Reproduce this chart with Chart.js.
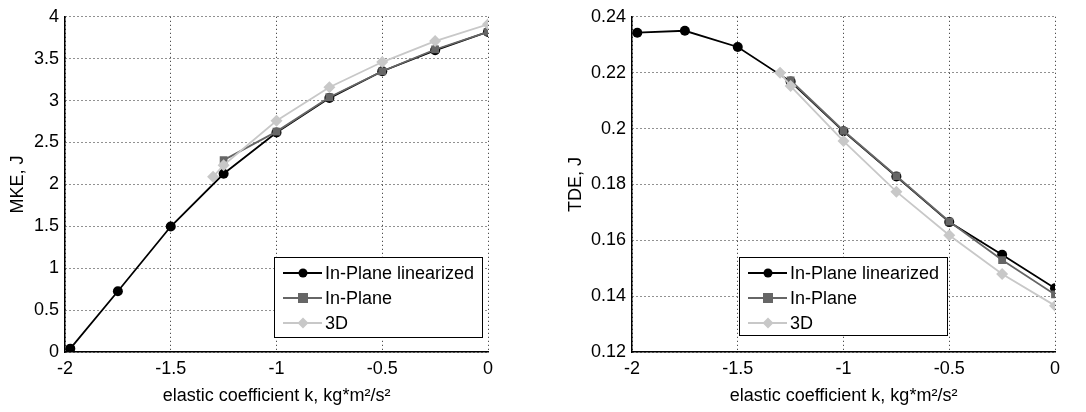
<!DOCTYPE html>
<html>
<head>
<meta charset="utf-8">
<script src="https://cdn.jsdelivr.net/npm/chart.js@4.4.1/dist/chart.umd.min.js"></script>
<style>
  body { margin: 0; background: #fff; }
  #wrap { position: relative; width: 1086px; height: 412px; }
  canvas { position: absolute; top: 0; }
</style>
</head>
<body>
<div id="wrap">
  <canvas id="mke" width="543" height="412" style="left:0"></canvas>
  <canvas id="tde" width="543" height="412" style="left:543px"></canvas>
</div>
<script>
// valores
const kLinear = [-1.975, -1.75, -1.5, -1.25, -1, -0.75, -0.5, -0.25, 0];
const kPlane = [-1.25, -1, -0.75, -0.5, -0.25, 0];
const k3d = [-1.3, -1.25, -1, -0.75, -0.5, -0.25, 0];

const mkeLinear = [0.04, 0.725, 1.497, 2.127, 2.62, 3.03, 3.35, 3.60, 3.82];
const mkePlane = [2.29, 2.63, 3.04, 3.35, 3.61, 3.82];
const mke3d = [2.09, 2.23, 2.76, 3.16, 3.46, 3.71, 3.91];

const tdeLinear = [0.2343, 0.2350, 0.2292, 0.2168, 0.1990, 0.1828, 0.1665, 0.1548, 0.1428];
const tdePlane = [0.2172, 0.1992, 0.1830, 0.1667, 0.1529, 0.1406];
const tde3d = [0.2200, 0.2152, 0.1955, 0.1774, 0.1618, 0.1479, 0.1366];

const nomes = ['In-Plane linearized', 'In-Plane', '3D'];
const cores = ['#000000', '#666666', '#c8c8c8'];
const marcadores = ['circle', 'rect', 'rectRot'];
const tamanhos = [5, 5.5, 6];

const fonte = 'Arial, "Liberation Sans", Helvetica, sans-serif';

function pontos(xs, ys) {
    return xs.map((x, i) => ({ x: x, y: ys[i] }));
}

function criarDataset(i, xs, ys) {
    return {
        label: nomes[i],
        data: pontos(xs, ys),
        borderColor: cores[i],
        backgroundColor: cores[i],
        pointStyle: marcadores[i],
        pointRadius: tamanhos[i],
        pointBorderWidth: 0,
        borderWidth: 1.8,
        tension: 0,
        order: 3 - i
    };
}

function formatarTick(v) {
    return parseFloat(v.toFixed(4)).toString();
}

// legenda desenhada dentro da area do grafico
const legendaCaixa = {
    id: 'legendaCaixa',
    afterDraw(chart, args, opts) {
        const c = chart.ctx;
        const x = opts.x, y = opts.y, w = opts.w, h = opts.h;
        c.save();
        c.fillStyle = '#fff';
        c.fillRect(x, y, w, h);
        c.strokeStyle = '#000';
        c.lineWidth = 1;
        c.strokeRect(x + 0.5, y + 0.5, w, h);
        c.font = '18px ' + fonte;
        c.textBaseline = 'middle';
        chart.data.datasets.forEach((ds, i) => {
            const cy = y + 16 + i * 25;
            const mx = x + 29;
            const r = ds.pointRadius - 0.5;
            c.strokeStyle = ds.borderColor;
            c.lineWidth = 2;
            c.beginPath();
            c.moveTo(x + 9, cy);
            c.lineTo(x + 48, cy);
            c.stroke();
            c.fillStyle = ds.borderColor;
            c.beginPath();
            if (ds.pointStyle === 'circle') c.arc(mx, cy, r, 0, Math.PI * 2);
            else if (ds.pointStyle === 'rect') c.rect(mx - r, cy - r, r * 2, r * 2);
            else {
                c.moveTo(mx, cy - r);
                c.lineTo(mx + r, cy);
                c.lineTo(mx, cy + r);
                c.lineTo(mx - r, cy);
                c.closePath();
            }
            c.fill();
            c.fillStyle = '#000';
            c.fillText(ds.label, x + 51, cy + 1);
        });
        c.restore();
    }
};

function criarGrafico(id, datasets, yMin, yMax, yStep, yTitulo, padEsq, eixoY, padDir, legenda) {
    return new Chart(document.getElementById(id), {
        type: 'line',
        data: { datasets: datasets },
        plugins: [legendaCaixa],
        options: {
            responsive: false,
            animation: false,
            layout: { padding: { top: 15, right: padDir, left: padEsq, bottom: 0 } },
            plugins: {
                legend: { display: false },
                tooltip: { enabled: false },
                legendaCaixa: legenda
            },
            scales: {
                x: {
                    type: 'linear',
                    min: -2,
                    max: 0,
                    afterFit: s => { s.height = 60; },
                    ticks: { stepSize: 0.5, callback: formatarTick, color: '#000', font: { family: fonte, size: 18 }, padding: 6, maxRotation: 0 },
                    grid: { color: '#222', lineWidth: 1, drawTicks: false },
                    border: { display: true, color: '#000', width: 1.5, dash: [1, 3] },
                    title: { display: true, text: 'elastic coefficient k, kg*m²/s²', color: '#000', font: { family: fonte, size: 18 }, padding: { top: 0, bottom: 5 } }
                },
                y: {
                    min: yMin,
                    max: yMax,
                    afterFit: s => { s.width = eixoY; },
                    ticks: { stepSize: yStep, callback: formatarTick, color: '#000', font: { family: fonte, size: 18 }, padding: 6 },
                    grid: { color: '#222', lineWidth: 1, drawTicks: false },
                    border: { display: true, color: '#000', width: 1.5, dash: [1, 3] },
                    title: { display: true, text: yTitulo, color: '#000', font: { family: fonte, size: 18 }, padding: 0 }
                }
            }
        }
    });
}

const g1 = criarGrafico('mke', [
    criarDataset(0, kLinear, mkeLinear),
    criarDataset(1, kPlane, mkePlane),
    criarDataset(2, k3d, mke3d)
], 0, 4, 0.5, 'MKE, J', 7, 58, 55, { x: 274, y: 257, w: 208, h: 80 });

const g2 = criarGrafico('tde', [
    criarDataset(0, kLinear, tdeLinear),
    criarDataset(1, kPlane, tdePlane),
    criarDataset(2, k3d, tde3d)
], 0.12, 0.24, 0.02, 'TDE, J', 22, 67, 31, { x: 196, y: 257, w: 208, h: 78 });
</script>
</body>
</html>
